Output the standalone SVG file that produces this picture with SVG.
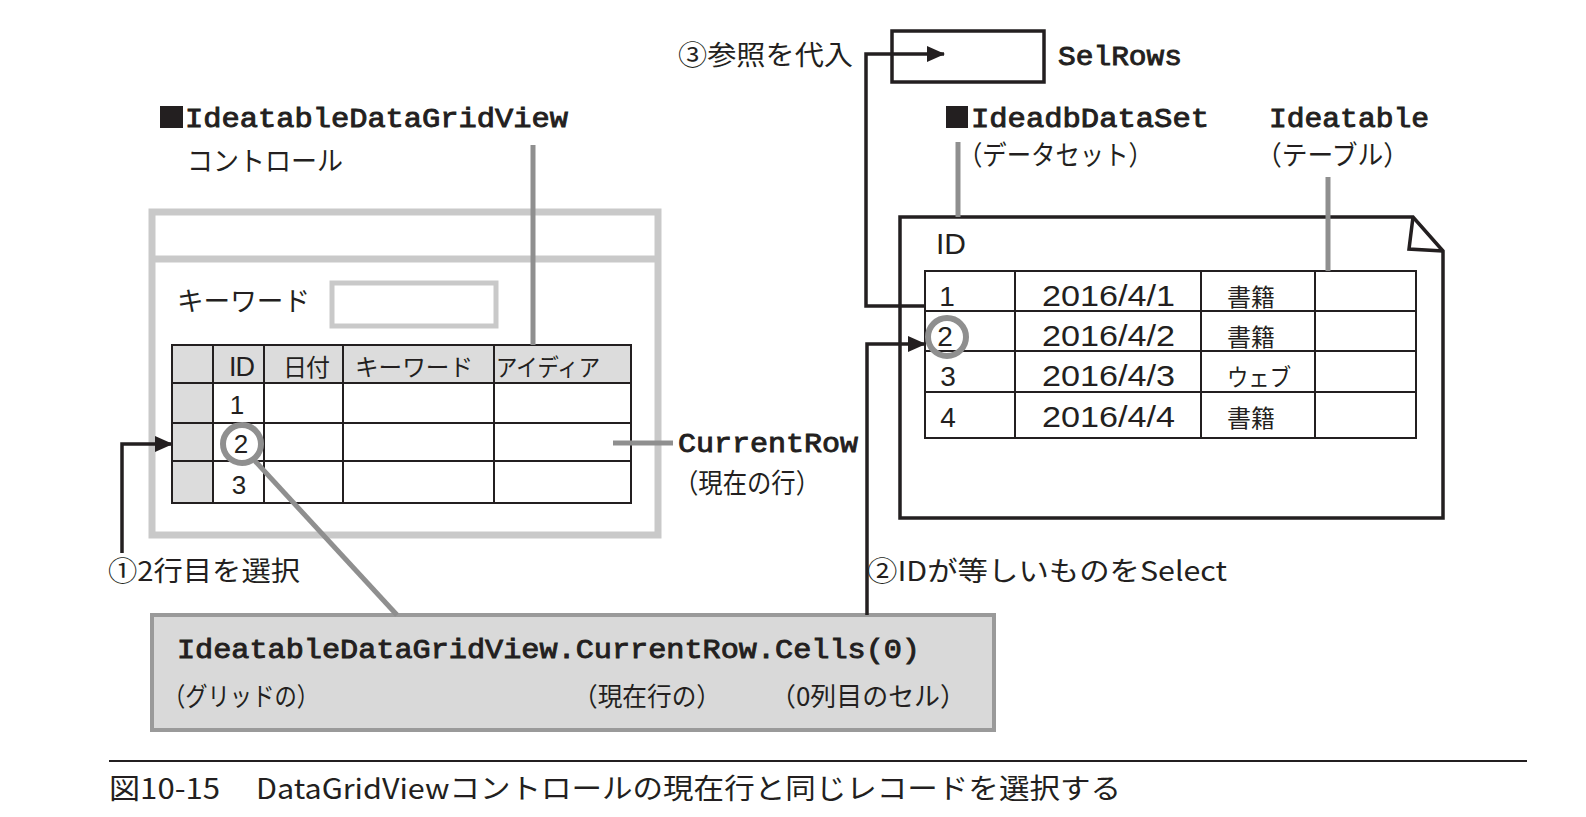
<svg xmlns="http://www.w3.org/2000/svg" width="1586" height="817" viewBox="0 0 1586 817">
<style>
text{fill:#231f20}
.jp{font-family:"Noto Sans CJK JP","Liberation Sans",sans-serif}
.sans{font-family:"Liberation Sans","Noto Sans CJK JP",sans-serif}
.mono{font-family:"Liberation Mono","DejaVu Sans Mono",monospace;font-weight:normal;stroke:#231f20;stroke-width:0.9}
.blk{fill:none;stroke:#231f20;stroke-width:3.5}
.thin{fill:none;stroke:#231f20;stroke-width:2}
.ptr{fill:none;stroke:#8f8f8f;stroke-width:5}
.frame{fill:none;stroke:#c9c9c9;stroke-width:7}
.cell{fill:#dcdcdc}
.conn{fill:none;stroke:#231f20;stroke-width:3.5}
</style>
<defs>
<marker id="ah" viewBox="0 0 18 16" refX="17" refY="8" markerWidth="18" markerHeight="16" markerUnits="userSpaceOnUse" orient="auto">
<path d="M0,0 L18,8 L0,16 Z" fill="#231f20"/>
</marker>
</defs>
<rect width="1586" height="817" fill="#ffffff"/>

<g id="gridview-window">
<rect class="frame" x="152" y="212" width="506" height="323"/>
<line class="frame" x1="152" y1="259" x2="658" y2="259"/>
<rect x="332" y="283" width="164" height="43" fill="none" stroke="#c9c9c9" stroke-width="5"/>
<text class="jp" x="177" y="311" font-size="27" textLength="133" lengthAdjust="spacingAndGlyphs">キーワード</text>
</g>

<g id="gridview-table">
<rect class="cell" x="172" y="345" width="459" height="38"/>
<rect class="cell" x="172" y="345" width="41" height="158"/>
<rect class="thin" x="172" y="345" width="459" height="158"/>
<path class="thin" d="M172,383 H631 M172,423 H631 M172,461 H631 M213,345 V503 M264,345 V503 M343,345 V503 M494,345 V503"/>
<text class="sans" x="229" y="376" font-size="27" textLength="26">ID</text>
<text class="jp" x="283" y="376" font-size="24" textLength="47">日付</text>
<text class="jp" x="355" y="376" font-size="24" textLength="118" lengthAdjust="spacingAndGlyphs">キーワード</text>
<text class="jp" x="496" y="376" font-size="24" textLength="104" lengthAdjust="spacingAndGlyphs">アイディア</text>
<text class="sans" x="237" y="414" font-size="26" text-anchor="middle">1</text>
<text class="sans" x="241" y="453" font-size="26" text-anchor="middle">2</text>
<text class="sans" x="239" y="494" font-size="26" text-anchor="middle">3</text>
<circle cx="242" cy="444" r="19" fill="none" stroke="#8f8f8f" stroke-width="6"/>
</g>

<g id="gridview-label">
<rect x="160" y="106" width="23" height="22" fill="#231f20"/>
<text class="mono" x="185" y="127" font-size="27" textLength="383" lengthAdjust="spacingAndGlyphs">IdeatableDataGridView</text>
<text class="jp" x="187" y="171" font-size="27" textLength="156" lengthAdjust="spacingAndGlyphs">コントロール</text>
</g>

<g id="currentrow-label">
<text class="mono" x="678" y="452" font-size="27" textLength="180" lengthAdjust="spacingAndGlyphs">CurrentRow</text>
<text class="jp" x="674" y="493" font-size="27" textLength="146" lengthAdjust="spacingAndGlyphs">（現在の行）</text>
</g>

<g id="selrows">
<rect class="blk" x="892" y="31" width="152" height="51"/>
<text class="mono" x="1058" y="65" font-size="27" textLength="124" lengthAdjust="spacingAndGlyphs">SelRows</text>
</g>

<g id="dataset-label">
<rect x="946" y="106" width="22" height="22" fill="#231f20"/>
<text class="mono" x="971" y="127" font-size="27" textLength="238" lengthAdjust="spacingAndGlyphs">IdeadbDataSet</text>
<text class="jp" x="958" y="165" font-size="27" textLength="195" lengthAdjust="spacingAndGlyphs">（データセット）</text>
</g>

<g id="table-label">
<text class="mono" x="1269" y="127" font-size="27" textLength="160" lengthAdjust="spacingAndGlyphs">Ideatable</text>
<text class="jp" x="1256" y="165" font-size="27" textLength="153" lengthAdjust="spacingAndGlyphs">（テーブル）</text>
</g>

<g id="dataset-document">
<path class="blk" d="M900,217 H1413 L1443,251 V518 H900 Z"/>
<path class="blk" d="M1413,217 L1409,249 L1443,251"/>
<text class="sans" x="936" y="254" font-size="30">ID</text>
</g>

<g id="dataset-table">
<rect class="thin" x="925" y="271" width="491" height="167"/>
<path class="thin" d="M925,311 H1416 M925,351 H1416 M925,392 H1416 M1015,271 V438 M1201,271 V438 M1315,271 V438"/>
<text class="sans" x="947" y="306" font-size="28" text-anchor="middle">1</text>
<text class="sans" x="945" y="346" font-size="28" text-anchor="middle">2</text>
<text class="sans" x="948" y="386" font-size="28" text-anchor="middle">3</text>
<text class="sans" x="948" y="427" font-size="28" text-anchor="middle">4</text>
<text class="sans" x="1042" y="306" font-size="29" textLength="133" lengthAdjust="spacingAndGlyphs">2016/4/1</text>
<text class="sans" x="1042" y="346" font-size="29" textLength="133" lengthAdjust="spacingAndGlyphs">2016/4/2</text>
<text class="sans" x="1042" y="386" font-size="29" textLength="133" lengthAdjust="spacingAndGlyphs">2016/4/3</text>
<text class="sans" x="1042" y="427" font-size="29" textLength="133" lengthAdjust="spacingAndGlyphs">2016/4/4</text>
<text class="jp" x="1227" y="306" font-size="24" textLength="48">書籍</text>
<text class="jp" x="1227" y="346" font-size="24" textLength="48">書籍</text>
<text class="jp" x="1227" y="386" font-size="24" textLength="64" lengthAdjust="spacingAndGlyphs">ウェブ</text>
<text class="jp" x="1227" y="427" font-size="24" textLength="48">書籍</text>
<circle cx="947" cy="337" r="19" fill="none" stroke="#8f8f8f" stroke-width="6"/>
</g>

<g id="code-box">
<rect x="152" y="615" width="842" height="115" fill="#d9d9d9" stroke="#9a9a9a" stroke-width="4"/>
<text class="mono" x="177" y="658" font-size="27" textLength="743" lengthAdjust="spacingAndGlyphs">IdeatableDataGridView.CurrentRow.Cells(0)</text>
<text class="jp" x="163" y="706" font-size="26" textLength="156" lengthAdjust="spacingAndGlyphs">（グリッドの）</text>
<text class="jp" x="573" y="706" font-size="26" textLength="148" lengthAdjust="spacingAndGlyphs">（現在行の）</text>
<text class="jp" x="770" y="706" font-size="26" textLength="196" lengthAdjust="spacingAndGlyphs">（0列目のセル）</text>
</g>

<g id="step-labels">
<text class="jp" x="108" y="581" font-size="27" textLength="192" lengthAdjust="spacingAndGlyphs">①2行目を選択</text>
<text class="jp" x="867" y="581" font-size="27" textLength="360" lengthAdjust="spacingAndGlyphs">②IDが等しいものをSelect</text>
<text class="jp" x="678" y="65" font-size="27" textLength="175" lengthAdjust="spacingAndGlyphs">③参照を代入</text>
</g>

<g id="connectors">
<line class="ptr" x1="533" y1="145" x2="533" y2="345"/>
<line class="ptr" x1="613" y1="443" x2="673" y2="443"/>
<line class="ptr" x1="958" y1="142" x2="958" y2="217"/>
<line class="ptr" x1="1328" y1="177" x2="1328" y2="271"/>
<line class="ptr" x1="255" y1="461" x2="397" y2="615" stroke-width="7"/>
<path class="conn" d="M122,553 V444 H172" marker-end="url(#ah)"/>
<path class="conn" d="M925,306 H866 V54 H944" marker-end="url(#ah)"/>
<path class="conn" d="M867,615 V344 H925" marker-end="url(#ah)"/>
</g>

<g id="caption">
<line x1="109" y1="761" x2="1527" y2="761" stroke="#231f20" stroke-width="2"/>
<text class="jp" x="109" y="799" font-size="28" textLength="111" lengthAdjust="spacingAndGlyphs">図10-15</text>
<text class="jp" x="256" y="799" font-size="28" textLength="865" lengthAdjust="spacingAndGlyphs">DataGridViewコントロールの現在行と同じレコードを選択する</text>
</g>
</svg>
